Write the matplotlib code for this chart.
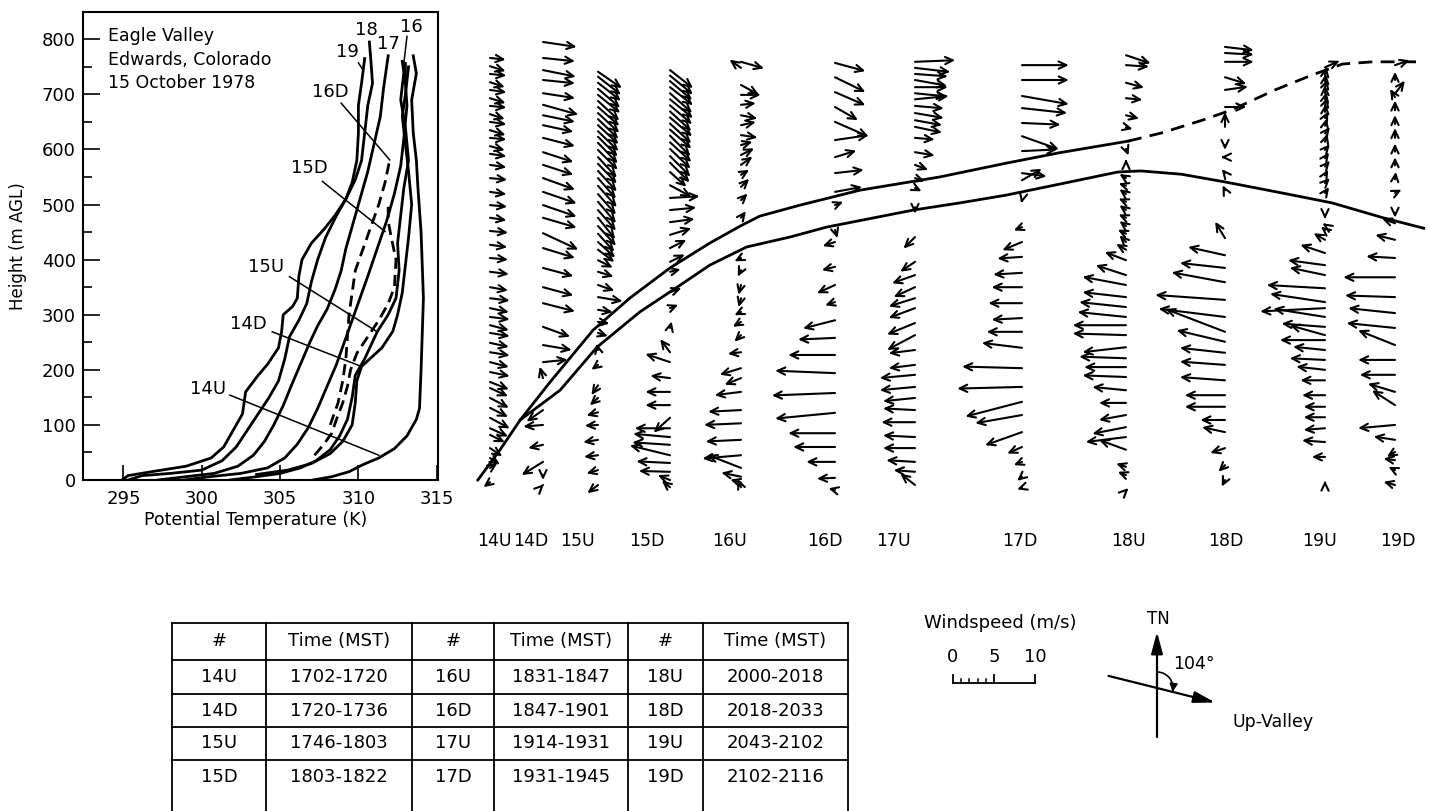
import numpy as np
import matplotlib
matplotlib.use('Agg')
import matplotlib.pyplot as plt
from matplotlib.transforms import offset_copy
from matplotlib.patches import Arc

plt.rcParams['font.family'] = ['DejaVu Sans']

# ---------------- potential temperature profiles (K, m AGL) ----------------
t19 = [294.9, 295.3, 297.0, 299.0, 300.6, 301.4, 302.0, 302.6, 302.8, 303.6, 304.2, 304.9, 305.1, 305.2,
       305.8, 306.1, 306.2, 306.4, 307.0, 307.8, 308.5, 309.2, 309.6, 309.9, 310.0, 310.0, 310.2, 310.4]
z19 = [0, 8, 16, 25, 40, 60, 90, 120, 160, 190, 210, 240, 270, 300,
       315, 330, 370, 400, 430, 455, 480, 510, 540, 580, 630, 680, 720, 765]
t18 = [295.3, 296.2, 298.0, 300.0, 301.3, 302.2, 302.9, 303.6, 304.3, 304.9, 305.3, 305.6, 306.2,
       306.7, 307.0, 307.4, 307.9, 308.6, 309.2, 309.8, 310.2, 310.4, 310.6, 310.9, 310.8, 310.7]
z18 = [0, 8, 12, 18, 35, 60, 90, 120, 150, 180, 220, 260, 290,
       320, 360, 400, 440, 480, 510, 545, 580, 630, 680, 720, 760, 795]
t17 = [297.2, 299.0, 300.8, 302.3, 303.3, 304.0, 304.6, 305.2, 305.7, 306.3, 306.9, 307.4, 308.0,
       308.5, 308.9, 309.2, 309.6, 310.1, 310.6, 311.0, 311.4, 311.6, 311.9]
z17 = [0, 6, 12, 25, 45, 70, 100, 135, 170, 210, 250, 280, 310,
       345, 380, 420, 460, 510, 560, 610, 660, 710, 770]
t16 = [298.9, 300.5, 302.5, 304.2, 305.3, 306.1, 306.8, 307.4, 308.0, 308.6, 309.1, 309.6, 310.1,
       310.6, 311.2, 311.8, 312.3, 312.7, 312.9, 313.1, 313.0, 313.0]
z16 = [0, 6, 12, 22, 40, 65, 95, 130, 170, 210, 250, 290, 330,
       370, 420, 470, 520, 570, 620, 680, 720, 756]
t15U = [301.8, 303.5, 305.0, 306.3, 307.3, 308.2, 308.8, 309.3, 309.6, 309.8, 310.4, 311.2, 311.9,
        312.4, 312.6, 312.5, 312.7, 312.9, 313.2, 313.0, 312.7, 312.9, 312.8]
z15U = [0, 6, 12, 22, 35, 55, 80, 110, 150, 190, 220, 269, 300,
        330, 380, 430, 480, 530, 580, 640, 690, 740, 760]
t14D = [303.5, 305.5, 307.0, 308.2, 309.0, 309.6, 309.8, 309.9, 310.2, 311.5, 312.2, 312.5, 312.8,
        313.0, 313.2, 313.4, 313.2, 313.0, 312.8, 313.0, 313.2]
z14D = [10, 18, 30, 48, 70, 100, 140, 180, 206, 240, 270, 300, 340,
        390, 440, 500, 560, 610, 660, 700, 750]
t14U = [307.1, 308.3, 309.4, 310.3, 311.3, 312.3, 313.1, 313.7, 313.9, 314.0, 314.15, 314.0, 313.8,
        313.7, 313.5, 313.4, 313.7, 313.5]
z14U = [0, 6, 15, 28, 40, 57, 80, 110, 130, 200, 330, 450, 530,
        580, 630, 690, 738, 770]
t15D = [307.2, 307.8, 308.3, 308.6, 309.0, 309.3, 309.5, 309.9, 310.6, 311.3, 311.9, 312.3, 312.4,
        312.1, 311.9, 311.9]
z15D = [45, 65, 85, 110, 140, 170, 200, 230, 260, 290, 320, 350, 400,
        440, 470, 500]
t16D = [308.2, 308.7, 309.0, 309.2, 309.3, 309.4, 309.6, 309.8, 310.3, 310.8, 311.3, 311.7, 312.0]
z16D = [100, 140, 180, 220, 260, 300, 340, 380, 420, 460, 500, 540, 581]

solid_profiles = [(t19, z19), (t18, z18), (t17, z17), (t16, z16), (t15U, z15U), (t14D, z14D), (t14U, z14U)]
dashed_profiles = [(t15D, z15D), (t16D, z16D)]

# labels: text, text position (T, z), leader line start/end (T, z) or None
profile_labels = [
    ('14U', (300.4, 166), (301.8, 154), (311.3, 45)),
    ('14D', (303.0, 284), (304.5, 269), (310.2, 206)),
    ('15U', (304.1, 387), (305.6, 369), (311.2, 269)),
    ('15D', (306.9, 566), (307.7, 542), (311.7, 451)),
    ('16D', (308.2, 705), (308.9, 684), (312.0, 581)),
    ('19', (309.3, 777), (310.0, 757), (310.3, 744)),
    ('18', (310.5, 817), None, None),
    ('17', (311.9, 792), None, None),
    ('16', (313.4, 823), (313.1, 805), (312.9, 756)),
]

# ---------------- wind profiles: (height m, u m/s east, v m/s north) ----------------
w14U = [(775, 1.9, -0.2), (760, 1.9, -0.6), (746, 2.0, -0.2), (731, 1.8, -0.6), (717, 2.0, -0.3), (702, 1.9, -0.6),
        (688, 2.0, -0.2), (673, 1.8, -0.6), (659, 2.0, -0.3), (644, 1.9, -0.6), (630, 2.0, -0.2), (615, 1.8, -0.5),
        (601, 2.0, -0.3), (581, 2.0, -0.3), (557, 2.1, -0.2), (532, 2.0, -0.3), (508, 2.1, -0.2), (485, 2.0, -0.3),
        (461, 2.2, -0.2), (436, 2.1, -0.3), (412, 2.2, -0.2), (387, 2.3, -0.3), (359, 2.2, -0.4), (339, 2.4, -0.3),
        (321, 2.3, -0.5), (305, 2.4, -0.3), (290, 2.3, -0.6), (276, 2.4, -0.4), (258, 2.3, -0.5), (241, 2.4, -0.4),
        (223, 2.3, -0.6), (205, 2.4, -0.5), (187, 2.3, -0.9), (176, 2.2, -1.0), (158, 2.3, -1.2), (140, 2.2, -1.1),
        (122, 2.4, -1.3), (103, 2.2, -1.0), (91, 1.8, -0.9), (67, 1.5, -1.0), (49, 1.2, -0.8), (31, 0.9, 0.6),
        (5, -0.8, -0.6)]
w14D = [(804, 4.1, -0.6), (775, 3.9, -0.4), (753, 4.0, -0.8), (735, 3.9, -0.4), (711, 3.9, -0.6), (690, 4.3, -1.2),
        (671, 3.9, -0.8), (653, 3.7, -0.8), (630, 3.9, -1.0), (604, 3.7, -1.2), (581, 3.7, -1.2), (557, 3.9, -1.4),
        (532, 4.1, -1.4), (508, 4.1, -1.4), (485, 4.1, -1.2), (457, 4.3, -2.0), (430, 3.9, -1.2), (394, 3.7, -1.0),
        (359, 3.7, -1.0), (330, 3.9, -1.0), (287, 3.3, -1.2), (254, 3.5, -0.6), (223, 3.0, 0.3), (194, -0.4, 1.4),
        (136, -2.0, -1.4), (109, -2.4, -0.2), (73, -1.8, -0.4), (42, -2.6, -1.6), (18, 0.0, -0.6), (0, 0.1, 0.1)]
w15U = [(750, 2.9, -2.0), (741, 2.8, -2.2), (730, 2.8, -2.2), (719, 2.7, -2.3), (708, 2.7, -2.2), (697, 2.6, -2.4),
        (686, 2.6, -2.3), (675, 2.6, -2.4), (664, 2.5, -2.4), (653, 2.5, -2.3), (642, 2.5, -2.4), (632, 2.4, -2.4),
        (621, 2.4, -2.5), (608, 2.4, -2.4), (595, 2.3, -2.5), (583, 2.3, -2.4), (570, 2.3, -2.5), (557, 2.2, -2.5),
        (543, 2.3, -2.6), (528, 2.2, -2.5), (514, 2.2, -2.6), (499, 2.2, -2.5), (485, 2.1, -2.6), (470, 2.2, -2.4),
        (456, 2.0, -2.2), (441, 2.1, -1.9), (427, 2.0, -1.5), (408, 1.8, -0.9), (387, 1.9, -0.6), (363, 2.0, -0.7),
        (341, 3.0, -0.5), (318, 1.8, -0.3), (296, 1.4, -0.2), (276, 1.2, -0.4), (245, -0.2, 0.8), (218, -0.8, -0.6),
        (181, -0.8, -1.2), (158, -1.0, -0.9), (132, -1.4, -0.4), (109, -1.6, -0.1), (82, -1.8, -0.3), (54, -1.7, -0.2),
        (27, -1.4, -0.4), (0, -1.3, -1.0)]
w15D = [(753, 2.8, -2.2), (743, 2.8, -2.3), (733, 2.7, -2.3), (722, 2.8, -2.2), (711, 2.7, -2.4), (700, 2.8, -2.3),
        (689, 2.7, -2.3), (678, 2.6, -2.4), (667, 2.7, -2.3), (656, 2.6, -2.4), (645, 2.6, -2.3), (634, 2.5, -2.5),
        (622, 2.6, -2.4), (610, 2.5, -2.4), (597, 2.5, -2.5), (585, 2.4, -2.4), (568, 2.0, -1.8), (544, 2.6, -1.4),
        (521, 3.6, 0.2), (499, 3.2, 0.3), (477, 3.0, 0.4), (454, 2.6, 0.8), (430, 2.0, 1.0), (405, 1.8, 0.9),
        (387, 1.3, 0.3), (350, 1.4, 0.5), (321, 1.0, 0.4), (285, 0.2, 0.8), (241, -1.2, 1.6), (223, -3.0, 1.0),
        (194, -2.4, 0.3), (169, -3.0, 0.0), (145, -3.0, 0.0), (122, -2.0, -1.8), (103, -4.3, 0.0), (87, -4.5, 0.4),
        (73, -4.6, 0.3), (54, -4.9, 1.2), (40, -4.1, 0.2), (24, -3.8, 0.1), (9, -1.5, 0.6), (-4, -1.0, 0.8)]
w16U = [(768, 2.8, -0.8), (757, -1.4, 1.0), (726, 2.2, -1.2), (708, 2.4, 0.0), (690, 1.8, 0.2), (671, 2.0, -0.4),
        (653, 1.8, 0.4), (635, 2.0, -0.3), (617, 1.4, 0.4), (599, 1.6, 0.8), (581, 1.4, 1.0), (563, 1.0, 0.6),
        (541, 1.0, 1.0), (517, 0.8, 0.8), (485, 0.6, 0.8), (412, -0.8, -0.4), (390, -0.4, -0.8), (363, -0.3, -1.2),
        (339, -0.3, -1.1), (314, -0.8, -0.4), (296, -1.0, -0.6), (272, -0.8, -0.8), (241, -1.6, -0.2), (212, -2.6, -0.8),
        (194, -2.0, -0.8), (169, -3.2, -0.4), (136, -4.0, -0.2), (112, -4.5, -0.2), (82, -4.3, -0.2), (54, -4.7, -0.4),
        (31, -4.1, 1.6), (15, -2.4, 0.5), (4, -1.3, 0.4), (-4, -0.4, 1.0)]
w16D = [(766, 3.7, -1.0), (740, 3.7, -1.8), (713, 3.7, -1.6), (686, 2.8, -1.6), (659, 4.1, -1.8), (626, 4.1, 0.6),
        (595, 2.6, 0.8), (566, 3.5, 0.4), (532, 3.3, 0.6), (508, 1.0, 0.4), (463, 0.3, -1.0), (441, -1.5, -0.5),
        (396, -1.6, -0.4), (363, -2.2, -1.0), (332, -1.2, -0.4), (299, -3.9, -1.0), (267, -4.5, -0.2), (236, -5.7, 0.0),
        (203, -7.3, 0.3), (167, -7.7, -0.3), (131, -7.3, -0.7), (94, -5.7, 0.0), (69, -5.1, 0.0), (42, -3.5, 0.0),
        (13, -2.2, -0.1), (-9, -0.8, 0.2)]
w17U = [(768, 4.9, 0.2), (757, 4.3, -0.5), (746, 4.0, -0.3), (735, 3.9, -0.7), (722, 4.0, 0.0), (711, 3.9, -0.4),
        (700, 4.1, 0.4), (688, 3.5, -0.3), (675, 3.5, -0.6), (662, 3.3, -0.6), (650, 3.3, -0.7), (630, 2.4, -0.2),
        (604, 2.4, -0.4), (581, 1.6, -0.6), (557, 1.2, -0.4), (539, 0.8, -0.4), (504, 0.0, -0.8), (450, -1.4, -1.4),
        (405, -1.8, -1.2), (381, -2.8, -1.0), (359, -2.6, -1.2), (339, -3.2, -1.0), (321, -3.2, -1.2), (294, -3.4, -1.4),
        (272, -3.4, -1.8), (245, -3.2, -0.4), (218, -3.2, -0.4), (200, -4.3, -0.4), (178, -4.3, -0.4), (158, -3.9, -0.4),
        (136, -3.9, 0.2), (114, -4.1, 0.0), (87, -3.9, 0.2), (67, -3.9, 0.0), (42, -3.5, 0.2), (24, -2.6, 0.2),
        (0, -1.8, 1.4)]
w17D = [(762, 5.7, 0.0), (735, 5.7, 0.0), (706, 5.7, -1.0), (684, 5.5, -0.6), (657, 4.7, -0.2), (633, 4.5, -1.6),
        (606, 4.3, 0.2), (566, 3.0, -0.4), (553, 2.4, 1.4), (517, -0.1, -0.4), (468, -1.0, -0.4), (441, -2.4, -1.0),
        (414, -3.0, -0.2), (385, -3.5, -0.2), (359, -3.7, 0.0), (330, -4.1, 0.0), (303, -3.7, -0.2), (278, -4.3, 0.0),
        (249, -4.9, 0.6), (212, -7.3, 0.2), (178, -7.9, -0.2), (151, -6.9, -1.8), (127, -5.7, -1.0), (96, -4.5, -1.6),
        (69, -1.8, -0.8), (42, -1.0, -0.4), (15, -0.6, -0.5), (-5, -0.6, -0.2)]
w18U = [(780, 3.0, -1.0), (762, 2.8, -0.2), (730, 2.2, -0.6), (702, 2.0, -0.2), (671, 1.6, -0.4), (649, 0.8, -0.2),
        (610, 0.3, -0.8), (584, 0.0, 0.5), (557, -0.8, 0.5), (543, -0.9, 0.3), (528, -0.8, 0.6), (514, -0.9, 0.4),
        (499, -0.8, 0.6), (485, -0.9, 0.4), (470, -0.8, 0.6), (456, -1.0, 0.5), (441, -0.8, 0.8), (427, -1.2, 0.7),
        (408, -2.6, 1.0), (381, -3.7, 1.2), (363, -5.3, 1.0), (341, -5.3, 0.6), (323, -5.7, 0.6), (305, -5.9, 0.6),
        (290, -6.5, 0.0), (272, -6.5, 0.2), (250, -5.3, -0.6), (230, -5.7, 0.2), (214, -5.1, 0.0), (196, -5.3, 0.2),
        (172, -4.1, 0.4), (149, -3.3, 0.0), (127, -3.3, -0.6), (105, -4.1, -0.8), (87, -4.9, -0.6), (64, -3.3, 1.2),
        (33, -1.2, 0.4), (18, -1.0, 0.4), (-10, 0.3, 0.3)]
w18D = [(795, 3.5, -0.4), (784, 3.5, -0.2), (768, 3.5, 0.0), (740, 2.6, -0.8), (717, 2.8, 0.4), (686, 2.6, 0.0),
        (650, 0.0, 1.8), (617, 0.0, -0.6), (595, -0.5, 0.0), (566, -0.4, 0.5), (535, -0.3, 0.6), (448, -1.2, 2.0),
        (417, -4.5, 1.0), (394, -5.5, 0.6), (368, -6.5, 1.2), (336, -8.5, 0.6), (305, -8.1, 1.0), (278, -7.3, 2.8),
        (260, -5.9, 1.4), (240, -5.5, 0.6), (218, -5.5, 0.4), (190, -5.5, 0.4), (163, -4.9, 0.0), (142, -4.9, 0.0),
        (118, -3.0, 0.0), (96, -2.8, 0.6), (67, -1.8, -0.6), (36, -0.8, -0.8), (9, -0.4, -0.8)]
w19U = [(758, 1.8, 0.8), (744, 0.2, 1.0), (733, 0.1, 0.9), (722, 0.3, 1.0), (711, 0.0, 1.0), (700, 0.2, 0.9),
        (689, 0.3, 1.0), (677, 0.1, 1.0), (666, 0.4, 0.8), (652, 0.2, 0.9), (638, 0.6, 0.8), (623, 0.3, 1.0),
        (608, 0.6, 0.7), (593, 0.5, 0.7), (578, 0.6, 0.7), (562, 0.4, 0.7), (548, 0.6, 0.6), (530, 0.5, 0.7),
        (490, 0.0, -0.5), (472, -0.3, 0.2), (463, -0.5, 0.4), (445, -1.4, 0.8), (421, -3.0, 1.0), (399, -4.5, 0.6),
        (381, -4.3, 0.9), (357, -7.1, 0.4), (332, -6.7, 1.0), (321, -7.9, -0.4), (305, -6.3, 1.0), (287, -5.3, 0.4),
        (272, -4.3, 1.2), (263, -5.5, 0.0), (245, -3.9, 0.4), (227, -4.3, 0.2), (209, -3.5, 0.4), (190, -3.0, 0.0),
        (163, -2.8, 0.0), (142, -2.6, 0.0), (123, -2.6, 0.0), (103, -2.6, -0.2), (78, -2.8, 0.2), (51, -1.6, 0.0),
        (2, 0.0, 0.4)]
w19D = [(762, 1.8, 0.6), (735, 0.0, 1.0), (710, 1.2, 1.6), (704, -0.6, 1.0), (680, 0.0, 1.2), (655, 0.0, 1.1),
        (630, 0.0, 1.2), (605, 0.0, 1.0), (580, 0.0, 1.0), (555, 0.1, 0.9), (530, 0.8, 0.4), (494, 0.0, -0.6),
        (475, -1.6, 0.6), (445, -2.4, 0.6), (412, -3.5, 0.2), (377, -6.3, 0.0), (341, -6.1, 0.2), (312, -5.7, 0.6),
        (285, -5.9, 0.6), (254, -4.5, 1.8), (227, -4.5, 0.0), (200, -4.3, 0.0), (169, -3.3, 1.0), (145, -2.8, 1.8),
        (109, -4.5, -0.4), (82, -2.6, 0.4), (60, -1.0, -0.6), (45, -1.4, 0.2), (27, -0.8, 0.4), (0, -1.4, 0.4)]

wind_names = ['14U', '14D', '15U', '15D', '16U', '16D', '17U', '17D', '18U', '18D', '19U', '19D']
wind_profiles = [w14U, w14D, w15U, w15D, w16U, w16D, w17U, w17D, w18U, w18D, w19U, w19D]

# boundary lines across the sounding columns: (column index, height m)
upper_idx = [-0.23, 0.19, 0.57, 1.13, 1.91, 2.44, 3.0, 3.56, 3.99, 4.20, 4.63, 5.31, 6.23, 6.85, 7.36, 8.02]
upper_z = [9, 64, 118, 187, 281, 339, 394, 439, 470, 488, 508, 535, 559, 584, 603, 624]
upper_dash_idx = [8.02, 8.36, 8.77, 9.07, 9.50, 9.87, 10.25, 10.68, 11.30]
upper_dash_z = [624, 639, 662, 681, 717, 744, 764, 768, 768]
lower_idx = [0.57, 1.31, 1.98, 2.58, 3.10, 3.56, 4.06, 4.52, 4.91, 5.98, 6.42, 6.85, 7.36, 7.92, 8.15,
             8.56, 9.0, 9.57, 10.10, 10.83, 11.41]
lower_z = [118, 172, 250, 314, 359, 399, 432, 450, 468, 499, 512, 526, 546, 568, 570,
           564, 550, 530, 512, 485, 466]

# sounding times table
tab_header = ['#', 'Time (MST)', '#', 'Time (MST)', '#', 'Time (MST)']
tab_rows = [['14U', '1702-1720', '16U', '1831-1847', '18U', '2000-2018'],
            ['14D', '1720-1736', '16D', '1847-1901', '18D', '2018-2033'],
            ['15U', '1746-1803', '17U', '1914-1931', '19U', '2043-2102'],
            ['15D', '1803-1822', '17D', '1931-1945', '19D', '2102-2116']]

VALLEY_AXIS = 104  # degrees from true north

# ---------------- layout ----------------
W, H = 1429, 811
PX_PER_MS = 8.2
col_x = [490, 543, 598, 670, 741, 835, 915, 1022, 1126, 1225, 1325, 1395]
label_x = [494, 531, 577, 647, 730, 825, 893, 1020, 1128, 1226, 1320, 1398]


def fbox(x0, y0, x1, y1):
    return [x0 / W, 1 - y1 / H, (x1 - x0) / W, (y1 - y0) / H]


def col_pos(idx):
    idx = np.asarray(idx, float)
    n = np.arange(len(col_x))
    x = np.interp(idx, n, col_x)
    x = np.where(idx < 0, col_x[0] + idx * (col_x[1] - col_x[0]), x)
    x = np.where(idx > n[-1], col_x[-1] + (idx - n[-1]) * (col_x[-1] - col_x[-2]), x)
    return x


fig = plt.figure(figsize=(W / 100, H / 100), dpi=100)

# overlay for table, scale and compass (pixel coordinates, y down)
ov = fig.add_axes([0, 0, 1, 1])
ov.set_xlim(0, W)
ov.set_ylim(H, 0)
ov.axis('off')

# ---- potential temperature panel ----
ax = fig.add_axes(fbox(82.7, 11.7, 438.3, 480))
for t, z in solid_profiles:
    ax.plot(t, z, color='k', lw=2.0, solid_joinstyle='round')
for t, z in dashed_profiles:
    ax.plot(t, z, color='k', lw=2.0, ls=(0, (4, 2.2)))
for txt, pos, p0, p1 in profile_labels:
    ax.text(pos[0], pos[1], txt, fontsize=13, ha='center', va='center')
    if p0 is not None:
        ax.plot([p0[0], p1[0]], [p0[1], p1[1]], color='k', lw=1.1)
ax.text(294.0, 805, 'Eagle Valley', fontsize=12.5, va='center')
ax.text(294.0, 762, 'Edwards, Colorado', fontsize=12.5, va='center')
ax.text(294.0, 720, '15 October 1978', fontsize=12.5, va='center')

ax.set_xlim(292.4, 315.1)
ax.set_ylim(0, 850)
ax.set_xticks([295, 300, 305, 310, 315])
ax.set_yticks(np.arange(0, 801, 100))
ax.set_yticks(np.arange(50, 800, 100), minor=True)
ax.tick_params(axis='both', which='major', direction='in', labelsize=13, width=1.2)
ax.tick_params(axis='y', which='major', length=12, pad=5)
ax.tick_params(axis='x', which='major', length=10.5, pad=7)
ax.tick_params(axis='y', which='minor', direction='in', length=6.5, width=1.2)
for s in ax.spines.values():
    s.set_linewidth(1.5)
ax.set_ylabel('Height (m AGL)', fontsize=12, va='center')
ax.yaxis.set_label_coords(-0.182, 0.5)
ax.set_xlabel('Potential Temperature (K)', fontsize=12.5, va='center')
ax.xaxis.set_label_coords(0.485, -0.086)

# ---- wind arrow panel ----
aw = fig.add_axes(fbox(460, 20, 1429, 500))
aw.set_xlim(460, 1429)
aw.set_ylim(-27.2, 843.9)
aw.axis('off')

astyle = '->,head_length=0.55,head_width=0.26'
for x, prof in zip(col_x, wind_profiles):
    for z, u, v in prof:
        tr = offset_copy(aw.transData, fig=fig, x=u * PX_PER_MS, y=v * PX_PER_MS, units='dots')
        aw.annotate('', xy=(x, z), xycoords=tr, xytext=(x, z), textcoords='data',
                    arrowprops=dict(arrowstyle=astyle, lw=1.5, color='k',
                                    shrinkA=0, shrinkB=0, mutation_scale=10))

aw.plot(col_pos(upper_idx), upper_z, color='k', lw=2.0)
aw.plot(col_pos(upper_dash_idx), upper_dash_z, color='k', lw=2.0, ls=(0, (5, 3)))
aw.plot(col_pos(lower_idx), lower_z, color='k', lw=2.0)

for x, name in zip(label_x, wind_names):
    aw.text(x, -101.6, name, fontsize=12.5, ha='center', va='center')

# ---- table ----
tcols = [172, 266, 412, 494, 628, 703, 848]
trows = [623, 660, 694, 727, 760, 811]
for y in trows[:-1]:
    ov.plot([tcols[0], tcols[-1]], [y, y], color='k', lw=1.3)
for x in tcols:
    ov.plot([x, x], [trows[0], H + 5], color='k', lw=1.3)
for j, txt in enumerate(tab_header):
    ov.text((tcols[j] + tcols[j + 1]) / 2, (trows[0] + trows[1]) / 2, txt,
            fontsize=13, ha='center', va='center')
for i, row in enumerate(tab_rows):
    yc = (trows[i + 1] + trows[i + 2]) / 2 if i < 3 else 777
    for j, txt in enumerate(row):
        ov.text((tcols[j] + tcols[j + 1]) / 2, yc, txt, fontsize=13, ha='center', va='center')

# ---- windspeed scale ----
x0, yb = 953, 683
ov.text(1000, 623, 'Windspeed (m/s)', fontsize=13, ha='center', va='center')
ov.plot([x0, x0 + 10 * PX_PER_MS], [yb, yb], color='k', lw=1.3)
for k in range(11):
    if k % 5 == 0:
        ov.plot([x0 + k * PX_PER_MS] * 2, [yb, yb - 8], color='k', lw=1.3)
    elif k < 5:
        ov.plot([x0 + k * PX_PER_MS] * 2, [yb, yb - 4], color='k', lw=1.1)
for k in [0, 5, 10]:
    ov.text(x0 + k * PX_PER_MS, 657, str(k), fontsize=13, ha='center', va='center')

# ---- compass ----
cx, cy = 1157, 688
ov.annotate('', xy=(cx, 632), xytext=(cx, 737),
            arrowprops=dict(arrowstyle='-|>,head_length=1.3,head_width=0.35', lw=1.6, color='k',
                            shrinkA=0, shrinkB=0, mutation_scale=10))
b = np.deg2rad(VALLEY_AXIS)
dx, dy = np.sin(b), -np.cos(b)
ov.annotate('', xy=(cx + 60 * dx, cy + 60 * dy), xytext=(cx - 50 * dx, cy - 50 * dy),
            arrowprops=dict(arrowstyle='-|>,head_length=1.3,head_width=0.35', lw=1.6, color='k',
                            shrinkA=0, shrinkB=0, mutation_scale=10))
r = 16
end = np.rad2deg(np.arctan2(dy, dx))
ov.add_patch(Arc((cx, cy), 2 * r, 2 * r, theta1=-90, theta2=end, color='k', lw=1.2))
t1, t2 = np.deg2rad(end - 12), np.deg2rad(end)
ov.annotate('', xy=(cx + r * np.cos(t2), cy + r * np.sin(t2)), xytext=(cx + r * np.cos(t1), cy + r * np.sin(t1)),
            arrowprops=dict(arrowstyle='-|>,head_length=0.5,head_width=0.25', lw=1.0, color='k',
                            shrinkA=0, shrinkB=0, mutation_scale=10))
ov.text(cx + 1, 619, 'TN', fontsize=12, ha='center', va='center')
ov.text(1173, 664, '104°', fontsize=12.5, ha='left', va='center')
ov.text(1233, 722, 'Up-Valley', fontsize=12.5, ha='left', va='center')

fig.savefig('out.png', dpi=100)
